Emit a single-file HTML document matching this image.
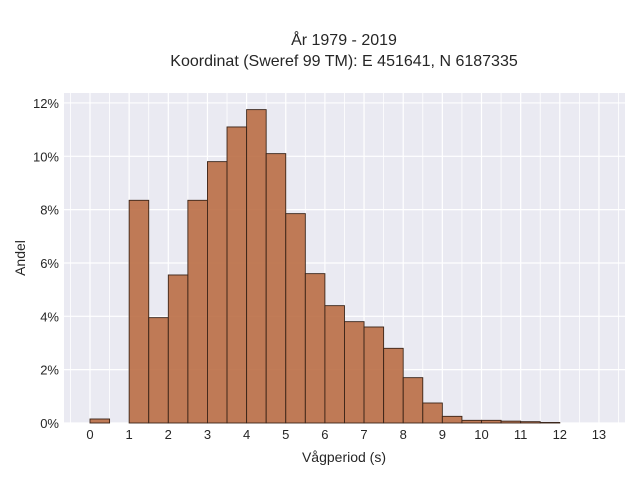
<!DOCTYPE html>
<html><head><meta charset="utf-8"><style>
body{margin:0;background:#fff;}
svg text{font-family:"Liberation Sans",sans-serif;fill:#262626;}
</style></head><body>
<svg width="640" height="480">
<text x="344" y="45" font-size="16" text-anchor="middle">År 1979 - 2019</text>
<text x="344" y="66" font-size="16" text-anchor="middle">Koordinat (Sweref 99 TM): E 451641, N 6187335</text>
<rect x="64" y="93" width="561" height="330" fill="#eaeaf2"/>
<g id="grid"></g>
<g id="bars"></g>
<g id="xt"></g>
<g id="yt"></g>
<text x="344" y="462" font-size="14" text-anchor="middle">Vågperiod (s)</text>
<text x="25" y="258" font-size="14" text-anchor="middle" transform="rotate(-90 25 258)">Andel</text>
</svg>
<script>
const binStarts=[0,0.5,1,1.5,2,2.5,3,3.5,4,4.5,5,5.5,6,6.5,7,7.5,8,8.5,9,9.5,10,10.5,11,11.5];
const values=[0.15,0,8.35,3.95,5.55,8.35,9.8,11.1,11.75,10.1,7.85,5.6,4.4,3.8,3.6,2.8,1.7,0.75,0.25,0.1,0.1,0.07,0.05,0.02];
const binWidth=0.5;
const xTicks=[0,1,2,3,4,5,6,7,8,9,10,11,12,13];
const yTicks=[0,2,4,6,8,10,12];
const NS="http://www.w3.org/2000/svg";
const X=v=>90+v*39.15, Y=v=>423-v*26.67;
function mk(t,a,p){const e=document.createElementNS(NS,t);for(const k in a)e.setAttribute(k,a[k]);p.appendChild(e);return e;}
const g=document.getElementById('grid');
for(let v=-0.5;v<=13.5;v+=0.5){const l=mk('line',{x1:X(v),x2:X(v),y1:93,y2:423,stroke:'#fff','stroke-width':Number.isInteger(v)?1.2:0.8},g);

}
yTicks.forEach(v=>{const l=mk('line',{x1:64,x2:625,y1:Y(v),y2:Y(v),stroke:'#fff','stroke-width':1.2},g);

});
const b=document.getElementById('bars');
values.forEach((v,i)=>{if(v<=0)return;const r=mk('rect',{x:X(binStarts[i]),y:Y(v),width:X(binStarts[i]+binWidth)-X(binStarts[i]),height:Y(0)-Y(v),fill:'#b86a40','fill-opacity':0.88,stroke:'#3a2418','stroke-width':0.9},b);

});
const xt=document.getElementById('xt');
xTicks.forEach(v=>{const t=mk('text',{x:X(v),y:439,'font-size':13,'text-anchor':'middle'},xt);t.textContent=v;

});
const yt=document.getElementById('yt');
yTicks.forEach(v=>{const t=mk('text',{x:59,y:Y(v)+5,'font-size':13,'text-anchor':'end'},yt);t.textContent=v+'%';

});
</script>
</body></html>
